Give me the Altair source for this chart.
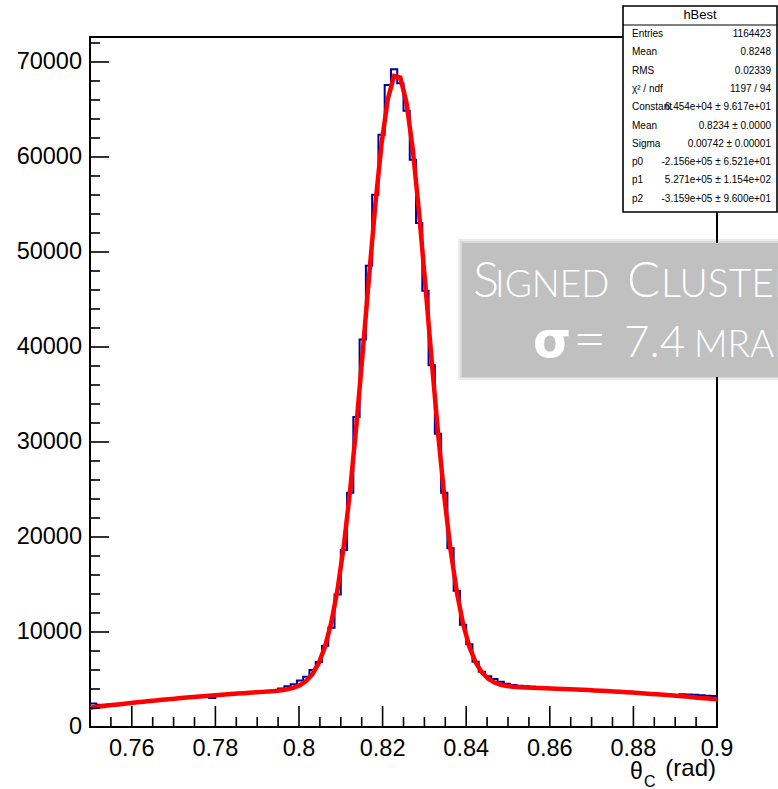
import altair as alt
import pandas as pd
import numpy as np

# ---------------- data ----------------
bin_lo = 0.75
bin_hi = 0.90
n_bins = 100

counts = [
    2480, 2350, 2330, 2400, 2420, 2470, 2500, 2580, 2640, 2700,
    2760, 2820, 2900, 2950, 3010, 3080, 3120, 3170, 3220, 3050,
    3330, 3380, 3440, 3480, 3530, 3580, 3640, 3690, 3760, 3880,
    4050, 4300, 4500, 4900, 5300, 6000, 6850, 8550, 10440, 13950,
    18640, 24670, 32620, 40780, 48560, 56020, 62330, 67585, 69235, 67760,
    64880, 59700, 53050, 45930, 38080, 30870, 24670, 18810, 14330, 10750,
    8720, 6860, 5810, 5330, 5045, 4760, 4550, 4420, 4330, 4280,
    4230, 4180, 4150, 4110, 4080, 4050, 4000, 3960, 3880, 3820,
    3800, 3780, 3720, 3700, 3640, 3600, 3590, 3560, 3520, 3490,
    3470, 3440, 3400, 3380, 3450, 3420, 3400, 3350, 3300, 3250,
]

# fitted curve read at the left edge, each bin centre and the right edge
fit_values = [2035,
    2075, 2154, 2230, 2306, 2380, 2453, 2524, 2594, 2662, 2729,
    2795, 2859, 2922, 2983, 3043, 3101, 3158, 3214, 3268, 3321,
    3372, 3422, 3471, 3518, 3564, 3608, 3652, 3697, 3745, 3800,
    3870, 3974, 4137, 4407, 4857, 5589, 6742, 8493, 11036, 14555,
    19191, 24988, 31849, 39472, 47369, 54915, 61389, 66112, 68529, 68364,
    65637, 60675, 54036, 46420, 38538, 31015, 24308, 18679, 14217, 10857,
    8456, 6816, 5748, 5081, 4681, 4450, 4317, 4239, 4192, 4159,
    4133, 4107, 4085, 4061, 4035, 4008, 3980, 3951, 3919, 3887,
    3853, 3818, 3781, 3743, 3703, 3662, 3620, 3576, 3530, 3484,
    3436, 3386, 3335, 3283, 3229, 3174, 3117, 3059, 2999, 2938,
    2907]

x_major = [0.76, 0.78, 0.8, 0.82, 0.84, 0.86, 0.88, 0.9]
x_labels = ["0.76", "0.78", "0.8", "0.82", "0.84", "0.86", "0.88", "0.9"]
x_minor = [0.755, 0.765, 0.77, 0.775, 0.785, 0.79, 0.795, 0.805, 0.81, 0.815,
           0.825, 0.83, 0.835, 0.845, 0.85, 0.855, 0.865, 0.87, 0.875, 0.885,
           0.89, 0.895]
y_major = [0, 10000, 20000, 30000, 40000, 50000, 60000, 70000]
y_labels = ["0", "10000", "20000", "30000", "40000", "50000", "60000", "70000"]
y_minor = [2000, 4000, 6000, 8000, 12000, 14000, 16000, 18000, 22000, 24000,
           26000, 28000, 32000, 34000, 36000, 38000, 42000, 44000, 46000, 48000,
           52000, 54000, 56000, 58000, 62000, 64000, 66000, 68000, 72000]
y_max = 72630

stat_title = "hBest"
stat_names = ["Entries", "Mean", "RMS", "\u03c7\u00b2 / ndf", "Constant", "Mean",
              "Sigma", "p0", "p1", "p2"]
stat_values = ["1164423", "0.8248", "0.02339", "1197 / 94",
               "6.454e+04 \u00b1 9.617e+01", "0.8234 \u00b1 0.0000",
               "0.00742 \u00b1 0.00001", "-2.156e+05 \u00b1 6.521e+01",
               "5.271e+05 \u00b1 1.154e+02", "-3.159e+05 \u00b1 9.600e+01"]

# ---------------- frames ----------------
edges = np.linspace(bin_lo, bin_hi, n_bins + 1)
centres = (edges[:-1] + edges[1:]) / 2
hist_df = pd.DataFrame({"x": edges, "y": counts + [counts[-1]]})
fit_df = pd.DataFrame({"x": [bin_lo] + list(centres) + [bin_hi], "y": fit_values})
one = pd.DataFrame({"k": [0]})

W, H = 627, 690
FONT = "Liberation Sans"
xs = alt.Scale(domain=[bin_lo, bin_hi], nice=False, zero=False)
ys = alt.Scale(domain=[0, y_max], nice=False, zero=True)

hist = alt.Chart(hist_df).mark_line(
    interpolate="step-after", color="#00009b", strokeWidth=2, clip=True
).encode(
    x=alt.X("x:Q", scale=xs, axis=None),
    y=alt.Y("y:Q", scale=ys, axis=None),
)

fit = alt.Chart(fit_df).mark_line(color="#ff0000", strokeWidth=4.5, clip=True).encode(
    x=alt.X("x:Q", scale=xs, axis=None),
    y=alt.Y("y:Q", scale=ys, axis=None),
)


def xticks(vals, length):
    return alt.Chart(pd.DataFrame({"v": vals})).mark_rule(
        color="black", strokeWidth=1.6).encode(
        x=alt.X("v:Q", scale=xs, axis=None),
        y=alt.value(H), y2=alt.value(H - length))


def yticks(vals, length):
    return alt.Chart(pd.DataFrame({"v": vals})).mark_rule(
        color="black", strokeWidth=1.6).encode(
        y=alt.Y("v:Q", scale=ys, axis=None),
        x=alt.value(0), x2=alt.value(length))


def rect(x1, x2, y1, y2, **kw):
    return alt.Chart(one).mark_rect(**kw).encode(
        x=alt.value(x1), x2=alt.value(x2), y=alt.value(y1), y2=alt.value(y2))


def text(s, x, y, **kw):
    return alt.Chart(one).mark_text(text=s, **kw).encode(
        x=alt.value(x), y=alt.value(y))


xlab = alt.Chart(pd.DataFrame({"v": x_major, "t": x_labels})).mark_text(
    font=FONT, fontSize=23.5, color="black", align="center", baseline="alphabetic"
).encode(x=alt.X("v:Q", scale=xs, axis=None), y=alt.value(H + 29), text="t:N")

ylab = alt.Chart(pd.DataFrame({"v": y_major, "t": y_labels})).mark_text(
    font=FONT, fontSize=23.5, color="black", align="right", baseline="middle"
).encode(y=alt.Y("v:Q", scale=ys, axis=None), x=alt.value(-8), text="t:N")

layers = [hist, fit,
          xticks(x_major, 21), xticks(x_minor, 10),
          yticks(y_major, 19), yticks(y_minor, 10),
          xlab, ylab]

# axis title  theta_C (rad)
layers += [
    text("\u03b8", 540, 742, align="left", baseline="alphabetic", font=FONT, fontSize=23, color="black"),
    text("C", 554, 750, align="left", baseline="alphabetic", font=FONT, fontSize=16, color="black"),
    text("(rad)", 626, 739, align="right", baseline="alphabetic", font=FONT, fontSize=24, color="black"),
]

# statistics box
layers += [
    rect(533, 687, -31, 175, fill="white", stroke="black", strokeWidth=1.6),
    alt.Chart(one).mark_rule(color="black", strokeWidth=1).encode(
        x=alt.value(533), x2=alt.value(687), y=alt.value(-12)),
    text(stat_title, 610, -22, align="center", baseline="middle", font=FONT, fontSize=13, color="black"),
]
for i, (nm, val) in enumerate(zip(stat_names, stat_values)):
    yy = -3 + 18.3 * i
    layers.append(text(nm, 542, yy, align="left", baseline="middle", font=FONT, fontSize=10, color="black"))
    layers.append(text(val, 681, yy, align="right", baseline="middle", font=FONT, fontSize=10, color="black"))

# grey annotation box
GF = "Lato"
layers += [
    rect(368, 720, 202, 343, fill="black", opacity=0.08),
    rect(370, 720, 204, 341, fill="black", opacity=0.08),
    rect(372, 720, 206, 340, fill="#c0c0c0"),
    text("S", 383, 260, align="left", baseline="alphabetic", font=GF, fontWeight=300, fontSize=49, color="white"),
    text("IGNED", 405, 260, align="left", baseline="alphabetic", font=GF, fontWeight=300, fontSize=37, color="white"),
    text("C", 537, 260, align="left", baseline="alphabetic", font=GF, fontWeight=300, fontSize=49, color="white"),
    text("LUSTER", 571, 260, align="left", baseline="alphabetic", font=GF, fontWeight=300, fontSize=39, color="white"),
    text("\u03c3", 443, 320, align="left", baseline="alphabetic", font="DejaVu Sans", fontWeight="bold", fontSize=49, color="white"),
    text("=", 483, 322, align="left", baseline="alphabetic", font=GF, fontWeight=300, fontSize=58, color="white"),
    text("7.4", 534, 320, align="left", baseline="alphabetic", font=GF, fontWeight=300, fontSize=44, color="white"),
    text("MRAD", 604, 320, align="left", baseline="alphabetic", font=GF, fontWeight=300, fontSize=37, color="white"),
]

chart = alt.layer(*layers).properties(
    width=W, height=H,
    padding={"left": 90, "top": 37, "right": 778 - 90 - W, "bottom": 789 - 37 - H},
    autosize=alt.AutoSizeParams(type="none"),
    background="white",
).configure_view(stroke="black", strokeWidth=2)

chart.save("out.html", embed_options={"renderer": "svg", "actions": False})
